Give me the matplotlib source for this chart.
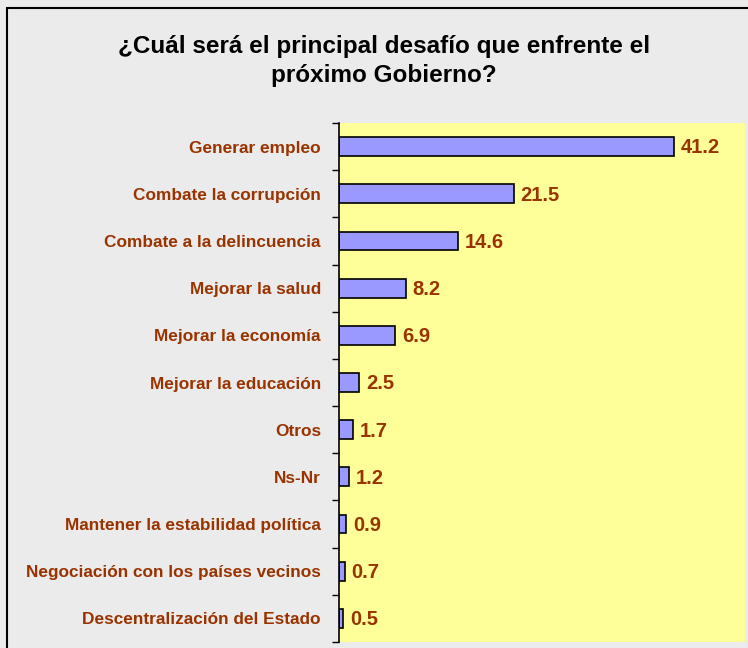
import matplotlib
matplotlib.use("Agg")
import matplotlib.pyplot as plt
from matplotlib.patches import Rectangle
from matplotlib.ticker import FixedLocator

categories = [
    "Generar empleo",
    "Combate la corrupción",
    "Combate a la delincuencia",
    "Mejorar la salud",
    "Mejorar la economía",
    "Mejorar la educación",
    "Otros",
    "Ns-Nr",
    "Mantener la estabilidad política",
    "Negociación con los países vecinos",
    "Descentralización del Estado",
]
values = [41.2, 21.5, 14.6, 8.2, 6.9, 2.5, 1.7, 1.2, 0.9, 0.7, 0.5]
value_labels = ["41.2", "21.5", "14.6", "8.2", "6.9", "2.5", "1.7", "1.2", "0.9", "0.7", "0.5"]
title = "¿Cuál será el principal desafío que enfrente el\npróximo Gobierno?"

W, H = 748, 648
plt.rcParams['font.family'] = ['Liberation Sans', 'DejaVu Sans']

fig = plt.figure(figsize=(W / 100, H / 100), dpi=100)
fig.patch.set_facecolor("#ebebeb")

# outer frame (left and top edges visible)
frame = Rectangle((7 / W, -0.2), 1.5, 1 - 8 / H + 0.2, transform=fig.transFigure,
                  fill=False, edgecolor="black", linewidth=1.5, clip_on=False)
fig.add_artist(frame)

ax = fig.add_axes([339 / W, 1 - 642 / H, (745 - 339) / W, (642 - 123) / H])
ax.set_facecolor("#ffff99")

y = list(range(len(categories)))
ax.barh(y, values, height=0.40, color="#9999ff", edgecolor="black", linewidth=1.2)

for yi, v, lab in zip(y, values, value_labels):
    ax.annotate(lab, (v, yi), xytext=(5, -1), textcoords="offset points",
                ha="left", va="center", fontsize=14.5, fontweight="bold", color="#993300")

ax.set_xlim(0, 50)
ax.set_ylim(len(categories) - 0.5, -0.5)
ax.set_yticks(y)
ax.set_yticklabels(categories, fontsize=12.4, fontweight="bold", color="#993300")
ax.tick_params(axis="y", which="major", length=0, pad=13)
ax.yaxis.set_minor_locator(FixedLocator([i - 0.5 for i in range(len(categories) + 1)]))
ax.tick_params(axis="y", which="minor", length=5, width=1.0, color="black", direction="out")
ax.set_xticks([])

for s in ["top", "right", "bottom"]:
    ax.spines[s].set_visible(False)
ax.spines["left"].set_color("black")
ax.spines["left"].set_linewidth(1.2)

fig.text(384 / W, 1 - 61 / H, title, ha="center", va="center", fontsize=17.5,
         fontweight="bold", color="black", linespacing=1.35)

fig.savefig("out.png", dpi=100, facecolor=fig.get_facecolor())
